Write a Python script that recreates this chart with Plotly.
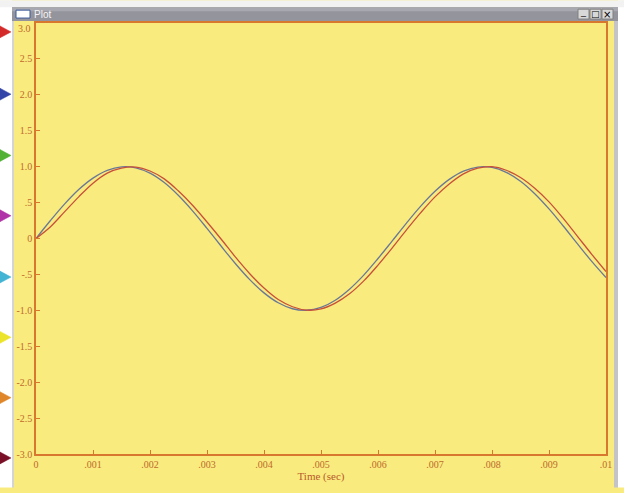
import plotly.graph_objects as go

# ---- data ----
time_s = [i * 0.00025 for i in range(41)]
blue_vals = [0.0, 0.247, 0.479, 0.682, 0.841, 0.949, 0.997, 0.984, 0.909, 0.778,
             0.598, 0.382, 0.141, -0.108, -0.351, -0.572, -0.757, -0.895, -0.978, -0.999,
             -0.959, -0.859, -0.706, -0.510, -0.279, -0.033, 0.215, 0.450, 0.657, 0.823,
             0.938, 0.995, 0.989, 0.920, 0.798, 0.624, 0.412, 0.174, -0.075, -0.319, -0.544]
red_vals = [0.0, 0.16, 0.37, 0.58, 0.77, 0.91, 0.98, 0.995, 0.94, 0.83,
            0.66, 0.46, 0.23, -0.01, -0.26, -0.49, -0.69, -0.85, -0.95, -0.997,
            -0.98, -0.90, -0.77, -0.59, -0.37, -0.13, 0.12, 0.36, 0.58, 0.76,
            0.90, 0.98, 1.0, 0.95, 0.85, 0.70, 0.51, 0.28, 0.03, -0.22, -0.46]

x_tickvals = [0, 0.001, 0.002, 0.003, 0.004, 0.005, 0.006, 0.007, 0.008, 0.009, 0.01]
x_ticktext = ["0", ".001", ".002", ".003", ".004", ".005", ".006", ".007", ".008", ".009", ".01"]
y_tickvals = [3.0, 2.5, 2.0, 1.5, 1.0, 0.5, 0.0, -0.5, -1.0, -1.5, -2.0, -2.5, -3.0]
y_ticktext = ["", "2.5", "2.0", "1.5", "1.0", ".5", "0", "-.5", "-1.0", "-1.5", "-2.0", "-2.5", "-3.0"]
x_title = "Time (sec)"
window_title = "Plot"

channel_colors = ["#D42A2A", "#3344A8", "#52B236", "#B034A8", "#44B4D4", "#ECE42A", "#E0862A", "#7A1028"]
channel_rows = [32, 95, 157, 218, 280, 341, 402, 463]

# ---- geometry (pixels) ----
W, H = 624, 493
L, R, T, B = 36, 606, 23, 459


def px(x):
    return (x - L) / (R - L)


def py(y):
    return (B - y) / (B - T)


YELLOW = "#F9EB7E"
AXIS = "#D8782E"
LABEL = "#C06A2A"

fig = go.Figure()
fig.add_trace(go.Scatter(x=time_s, y=blue_vals, mode="lines", line_shape="spline",
                         line=dict(color="#6A7896", width=1.3), showlegend=False))
fig.add_trace(go.Scatter(x=time_s, y=red_vals, mode="lines", line_shape="spline",
                         line=dict(color="#C8503A", width=1.3), showlegend=False))

shapes = []
# left white strip and window border
shapes.append(dict(type="rect", xref="paper", yref="paper", x0=px(0), x1=px(12), y0=py(H), y1=py(0),
                   fillcolor="#FFFFFF", line_width=0, layer="below"))
shapes.append(dict(type="rect", xref="paper", yref="paper", x0=px(12), x1=px(14), y0=py(H), y1=py(6),
                   fillcolor="#D4D4D4", line_width=0, layer="below"))
# right border
shapes.append(dict(type="rect", xref="paper", yref="paper", x0=px(614), x1=px(618), y0=py(H), y1=py(6),
                   fillcolor="#C4C4C8", line_width=0, layer="below"))
shapes.append(dict(type="rect", xref="paper", yref="paper", x0=px(618), x1=px(W), y0=py(H), y1=py(0),
                   fillcolor="#FFFFFF", line_width=0, layer="below"))
# top strip and title bar
shapes.append(dict(type="rect", xref="paper", yref="paper", x0=px(0), x1=px(W), y0=py(7), y1=py(0),
                   fillcolor="#F2F2F2", line_width=0, layer="below"))
shapes.append(dict(type="rect", xref="paper", yref="paper", x0=px(12), x1=px(618), y0=py(21), y1=py(7),
                   fillcolor="#94949C", line_width=0, layer="below"))
shapes.append(dict(type="rect", xref="paper", yref="paper", x0=px(12), x1=px(618), y0=py(11), y1=py(7),
                   fillcolor="#A8A8B0", line_width=0, layer="below"))
# title icon
shapes.append(dict(type="rect", xref="paper", yref="paper", x0=px(16), x1=px(30), y0=py(18), y1=py(10),
                   fillcolor="#FFFFFF", line=dict(color="#3A5A9A", width=1)))
# window buttons
for bx in (578, 590, 602):
    shapes.append(dict(type="rect", xref="paper", yref="paper", x0=px(bx), x1=px(bx + 11), y0=py(19),
                       y1=py(9), fillcolor="#D8D8D8", line=dict(color="#808080", width=1)))
# channel triangles
for c, yy in zip(channel_colors, channel_rows):
    path = f"M {px(0)},{py(yy - 6)} L {px(11)},{py(yy)} L {px(0)},{py(yy + 6)} Z"
    shapes.append(dict(type="path", xref="paper", yref="paper", path=path, fillcolor=c,
                       line=dict(color=c, width=0.5)))

annotations = [
    dict(x=px(32), y=py(14), xref="paper", yref="paper", text=window_title, showarrow=False,
         xanchor="left", yanchor="middle", font=dict(family="Liberation Sans", size=10, color="#F4F4F4")),
    dict(x=px(583.5), y=py(12), xref="paper", yref="paper", text="_", showarrow=False,
         xanchor="center", yanchor="middle",
         font=dict(family="Liberation Sans", size=9, color="#000000")),
    dict(x=px(595.5), y=py(14), xref="paper", yref="paper", text="□", showarrow=False,
         xanchor="center", yanchor="middle",
         font=dict(family="DejaVu Sans", size=9, color="#000000")),
    dict(x=px(607.5), y=py(14), xref="paper", yref="paper", text="×", showarrow=False,
         xanchor="center", yanchor="middle",
         font=dict(family="DejaVu Sans", size=10, color="#000000")),
    dict(x=px(33), y=py(29), xref="paper", yref="paper", text="3.0", showarrow=False,
         xanchor="right", yanchor="middle", font=dict(family="Liberation Serif", size=10, color=LABEL)),
]

fig.update_layout(
    width=W, height=H,
    margin=dict(l=L, r=W - R, t=T, b=H - B, pad=0),
    paper_bgcolor=YELLOW, plot_bgcolor=YELLOW,
    shapes=shapes, annotations=annotations,
    font=dict(family="Liberation Serif", size=10, color=LABEL),
)
fig.update_xaxes(range=[0, 0.01], tickvals=x_tickvals, ticktext=x_ticktext, showgrid=False,
                 zeroline=False, showline=True, linecolor=AXIS, linewidth=1.5, mirror=True,
                 ticks="inside", ticklen=4, tickcolor=AXIS, tickwidth=1,
                 tickfont=dict(family="Liberation Serif", size=10, color=LABEL),
                 title=dict(text=x_title, standoff=4,
                            font=dict(family="Liberation Serif", size=11, color="#B85A2A")))
fig.update_yaxes(range=[-3, 3], tickvals=y_tickvals, ticktext=y_ticktext, showgrid=False,
                 zeroline=False, showline=True, linecolor=AXIS, linewidth=1.5, mirror=True,
                 ticks="inside", ticklen=4, tickcolor=AXIS, tickwidth=1,
                 tickfont=dict(family="Liberation Serif", size=10, color=LABEL))

fig.write_html("out.html", config={"displayModeBar": False},
               post_script="document.body.style.margin='0';document.body.style.overflow='hidden';")
